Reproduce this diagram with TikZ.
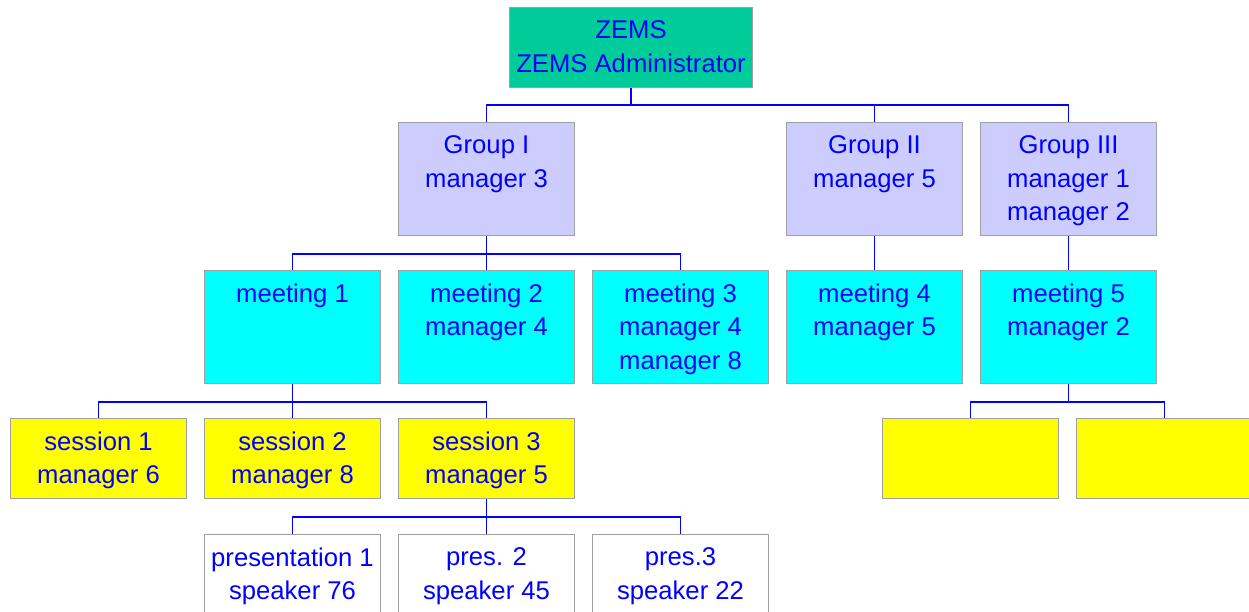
\documentclass[tikz,border=0pt]{standalone}
\usepackage{fontspec}
\setmainfont{Liberation Sans}
\definecolor{zemsgreen}{RGB}{0,204,153}
\definecolor{grouplila}{RGB}{204,204,255}
\definecolor{meetcyan}{RGB}{0,255,255}
\definecolor{sessyellow}{RGB}{255,255,0}
\definecolor{txtblue}{RGB}{0,0,255}
\definecolor{boxgray}{RGB}{160,160,160}

\begin{document}
\begin{tikzpicture}[
    x=0.02cm, y=-0.02cm,
    font=\fontsize{14.6}{19}\selectfont,
    % styles for the boxes
    orgbox/.style={draw=boxgray, line width=0.6pt, anchor=north west, inner sep=0pt, minimum width=3.52cm, minimum height=2.26cm},
    zemsbox/.style={orgbox, fill=zemsgreen, minimum width=4.86cm, minimum height=1.6cm},
    groupbox/.style={orgbox, fill=grouplila},
    meetbox/.style={orgbox, fill=meetcyan},
    sessbox/.style={orgbox, fill=sessyellow, minimum height=1.6cm},
    presbox/.style={orgbox, fill=white, minimum height=1.6cm},
    lbl/.style={text=txtblue, align=center, anchor=north, inner sep=0pt, yshift=-0.27cm},
    conn/.style={draw=txtblue, line width=0.7pt}
]
    \useasboundingbox (0,0) rectangle (1249,612);

    % ==========================================
    % ZEMS
    % ==========================================
    \node[zemsbox] (zems) at (509,7) {};
    \node[lbl] (zemsL) at (zems.north) {ZEMS\\ZEMS Administrator};

    % ==========================================
    % Groups
    % ==========================================
    \node[groupbox] (g1) at (398,122) {};
    \node[lbl] (g1L) at (g1.north) {Group I\\manager 3};
    \node[groupbox] (g2) at (786,122) {};
    \node[lbl] (g2L) at (g2.north) {Group II\\manager 5};
    \node[groupbox] (g3) at (980,122) {};
    \node[lbl] (g3L) at (g3.north) {Group III\\manager 1\\manager 2};

    % ==========================================
    % Meetings
    % ==========================================
    \node[meetbox] (m1) at (204,270) {};
    \node[lbl] (m1L) at (m1.north) {meeting 1};
    \node[meetbox] (m2) at (398,270) {};
    \node[lbl] (m2L) at (m2.north) {meeting 2\\manager 4};
    \node[meetbox] (m3) at (592,270) {};
    \node[lbl] (m3L) at (m3.north) {meeting 3\\manager 4\\manager 8};
    \node[meetbox] (m4) at (786,270) {};
    \node[lbl] (m4L) at (m4.north) {meeting 4\\manager 5};
    \node[meetbox] (m5) at (980,270) {};
    \node[lbl] (m5L) at (m5.north) {meeting 5\\manager 2};

    % ==========================================
    % Sessions
    % ==========================================
    \node[sessbox] (s1) at (10,418) {};
    \node[lbl] (s1L) at (s1.north) {session 1\\manager 6};
    \node[sessbox] (s2) at (204,418) {};
    \node[lbl] (s2L) at (s2.north) {session 2\\manager 8};
    \node[sessbox] (s3) at (398,418) {};
    \node[lbl] (s3L) at (s3.north) {session 3\\manager 5};
    \node[sessbox] (s4) at (882,418) {};
    \node[sessbox] (s5) at (1076,418) {};

    % ==========================================
    % Presentations
    % ==========================================
    \node[presbox] (p1) at (204,534) {};
    \node[lbl] (p1L) at (p1.north) {presentation 1\\speaker 76};
    \node[presbox] (p2) at (398,534) {};
    \node[lbl] (p2L) at (p2.north) {pres. 2\\speaker 45};
    \node[presbox] (p3) at (592,534) {};
    \node[lbl] (p3L) at (p3.north) {pres.3\\speaker 22};

    % ==========================================
    % Connectors
    % ==========================================
    \foreach \c in {g1,g2,g3}
        \draw[conn] (zems.south) -- ++(0,17) -| (\c.north);
    \foreach \c in {m1,m2,m3}
        \draw[conn] (g1.south) -- ++(0,18) -| (\c.north);
    \draw[conn] (g2.south) -- (m4.north);
    \draw[conn] (g3.south) -- (m5.north);
    \foreach \c in {s1,s2,s3}
        \draw[conn] (m1.south) -- ++(0,18) -| (\c.north);
    \foreach \c in {s4,s5}
        \draw[conn] (m5.south) -- ++(0,18) -| (\c.north);
    \foreach \c in {p1,p2,p3}
        \draw[conn] (s3.south) -- ++(0,18) -| (\c.north);

\end{tikzpicture}
\end{document}
